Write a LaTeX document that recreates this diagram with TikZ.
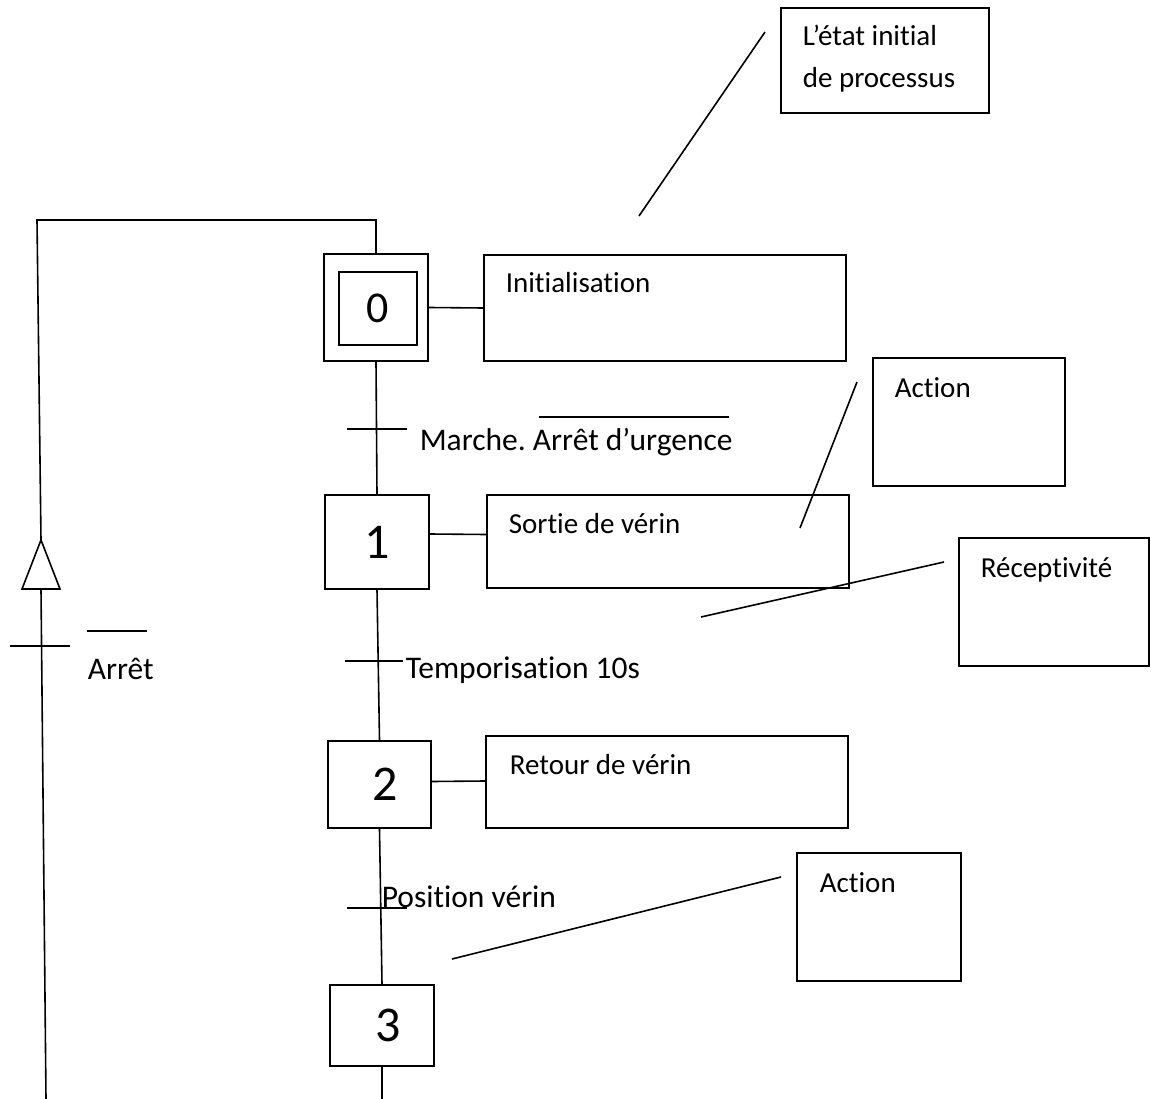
\documentclass[tikz,border=0pt]{standalone}
\usepackage{fontspec}
\setmainfont{Carlito}[Ligatures=NoCommon]
\frenchspacing
\begin{document}
\begin{tikzpicture}[x=1pt,y=-1pt,line width=1.6pt,
  stepbox/.style={draw,rectangle,inner sep=0pt},
  actbox/.style={draw,rectangle,inner sep=0pt},
  lbl/.style={inner sep=0pt,anchor=base west,font=\fontsize{29}{35}\selectfont},
  trlbl/.style={inner sep=0pt,anchor=base west,font=\fontsize{31.5}{38}\selectfont},
  bignum/.style={font=\fontsize{50}{60}\selectfont},
]
\useasboundingbox (0,0) rectangle (1151,1099);

% steps
\node[stepbox,minimum width=104pt,minimum height=107pt] (step0) at (376,307.5) {};
\node[stepbox,minimum width=78pt,minimum height=73pt,font=\fontsize{44}{52}\selectfont] (step0in) at (378,308.5) {0};
\node[stepbox,bignum,minimum width=104pt,minimum height=94pt] (step1) at (377,542) {1};
\node[stepbox,bignum,minimum width=103pt,minimum height=87pt] (step2) at (379.5,784.5) {\kern12pt 2};
\node[stepbox,bignum,minimum width=104pt,minimum height=81pt] (step3) at (382,1025.5) {\kern12pt 3};

% action boxes
\node[actbox,minimum width=362pt,minimum height=106pt] (init) at (665,308) {};
\node[actbox,minimum width=362pt,minimum height=93pt] (sortie) at (668,541.5) {};
\node[actbox,minimum width=362pt,minimum height=92pt] (retour) at (667,782) {};
\node[lbl] (tinit) at (505,293) {Initialisation};
\node[lbl] (tsortie) at (508,533) {Sortie de vérin};
\node[lbl] (tretour) at (509,774) {Retour de vérin};

% comment boxes
\node[actbox,minimum width=208pt,minimum height=105pt] (cEtat) at (885,60.5) {};
\node[actbox,minimum width=192pt,minimum height=128pt] (cAct1) at (969,422) {};
\node[actbox,minimum width=190pt,minimum height=128pt] (cRec) at (1054,602) {};
\node[actbox,minimum width=164pt,minimum height=128pt] (cAct2) at (879,917) {};
\node[lbl] (tEtat1) at (802,46) {L’état initial};
\node[lbl] (tEtat2) at (802,88) {de processus};
\node[lbl] (tAct1) at (894,397) {Action};
\node[lbl] (tRec) at (980,577) {Réceptivité};
\node[lbl] (tAct2) at (819,892) {Action};

% links between steps and their actions
\draw (step0.east) -- (init.west);
\draw ([yshift=8pt]step1.east) -- ([yshift=7pt]sortie.west);
\draw ([yshift=3pt]step2.east) -- ([yshift=1pt]retour.west);

% main sequence
\draw (step0.south) -- (step1.north);
\draw (step1.south) -- (step2.north);
\draw (step2.south) -- (step3.north);
\coordinate (endMain) at (382,1099);
\draw (step3.south) -- (endMain);

% transitions
\draw (347,429) -- (407,429);
\draw (345,661) -- (403,661);
\draw (347,908) -- (407,908);
\node[trlbl] (r01) at (419,450) {Marche. Arrêt d’urgence};
\draw (539,417) -- (729,417);
\node[trlbl] (r12) at (405,678) {Temporisation 10s};
\node[trlbl] (r23) at (381,907) {Position vérin};

% return loop
\coordinate (loopTL) at (37,220);
\coordinate (apex) at (41,540);
\coordinate (baseL) at (22,589);
\coordinate (baseR) at (60,589);
\coordinate (baseM) at (41,589);
\coordinate (loopBot) at (46,1099);
\draw (step0.north) |- (loopTL) -- (apex);
\draw (apex) -- (baseL) -- (baseR) -- cycle;
\draw (baseM) -- (loopBot);
\draw (10,646) -- (70,646);
\draw (87,631) -- (147,631);
\node[trlbl] (r30) at (87,679) {Arrêt};

% leader lines
\coordinate (a1) at (765,32);  \coordinate (b1) at (639,216);
\coordinate (a2) at (857,382); \coordinate (b2) at (800,528);
\coordinate (a3) at (944,562); \coordinate (b3) at (701,617);
\coordinate (a4) at (781,877); \coordinate (b4) at (452,959);
\draw (a1) -- (b1);
\draw (a2) -- (b2);
\draw (a3) -- (b3);
\draw (a4) -- (b4);
\end{tikzpicture}
\end{document}
